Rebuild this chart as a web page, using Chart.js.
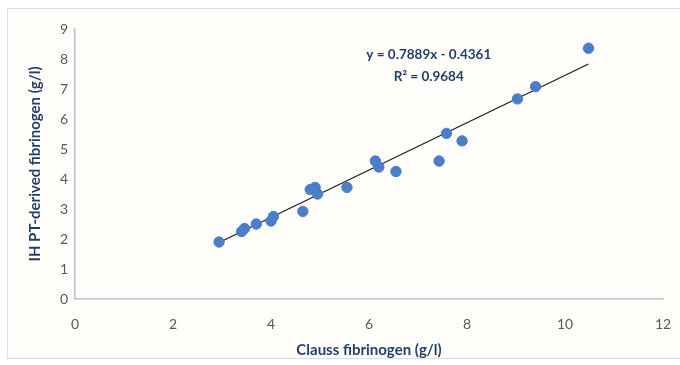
<!DOCTYPE html>
<html>
<head>
<meta charset="utf-8">
<script src="https://cdn.jsdelivr.net/npm/chart.js@4/dist/chart.umd.min.js"></script>
<style>
  html, body { margin: 0; padding: 0; background: #ffffff; }
  #wrap { position: relative; width: 680px; height: 365px; overflow: hidden; }
  #frame { position: absolute; left: 7px; top: 8px; width: 690px; height: 351px;
           border: 1px solid #d9dde3; box-sizing: border-box; background: #fffefb; }
  canvas { position: absolute; left: 0; top: 0; }
</style>
</head>
<body>
<div id="wrap">
  <div id="frame"></div>
  <canvas id="c" width="680" height="365"></canvas>
</div>
<script>
// Clauss fibrinogen (g/l) vs IH PT-derived fibrinogen (g/l)
const claussValues = [2.94, 3.40, 3.46, 3.70, 4.00, 4.05, 4.65, 4.80, 4.90, 4.95,
                      5.55, 6.13, 6.20, 6.55, 7.43, 7.58, 7.90, 9.03, 9.40, 10.48];
const ptDerivedValues = [1.90, 2.25, 2.35, 2.50, 2.60, 2.75, 2.92, 3.65, 3.72, 3.50,
                         3.72, 4.60, 4.40, 4.25, 4.60, 5.52, 5.27, 6.67, 7.08, 8.36];

// Linear trendline as printed on the chart
const trendSlope = 0.7889;
const trendIntercept = -0.4361;
const rSquared = 0.9684;

const xTicks = [0, 2, 4, 6, 8, 10, 12];
const yTicks = [0, 1, 2, 3, 4, 5, 6, 7, 8, 9];

const points = claussValues.map((x, i) => ({ x: x, y: ptDerivedValues[i] }));
const xMin = Math.min(...claussValues);
const xMax = Math.max(...claussValues);
const trendLine = [xMin, xMax].map(x => ({ x: x, y: trendSlope * x + trendIntercept }));

const navy = '#243f6b';
const tickGrey = '#595959';
const axisLine = '#b7c3d3';

const equationLabel = {
  id: 'equationLabel',
  afterDatasetsDraw(chart) {
    const { ctx, scales } = chart;
    const cx = scales.x.getPixelForValue(7.22);
    ctx.save();
    ctx.fillStyle = navy;
    ctx.font = 'bold 13.5px Lato, "Liberation Sans", sans-serif';
    ctx.textAlign = 'center';
    ctx.textBaseline = 'middle';
    const intercept = trendIntercept < 0
      ? ' - ' + Math.abs(trendIntercept).toFixed(4)
      : ' + ' + trendIntercept.toFixed(4);
    ctx.fillText('y = ' + trendSlope.toFixed(4) + 'x' + intercept, cx, scales.y.getPixelForValue(8.15));
    ctx.fillText('R\u00b2 = ' + rSquared.toFixed(4), cx, scales.y.getPixelForValue(7.4));
    ctx.restore();
  }
};

new Chart(document.getElementById('c'), {
  type: 'scatter',
  data: {
    datasets: [
      {
        type: 'line',
        data: trendLine,
        borderColor: '#1a1a1a',
        borderWidth: 1.2,
        pointRadius: 0,
        fill: false,
        order: 2
      },
      {
        data: points,
        backgroundColor: '#4a7ec8',
        borderColor: '#4a7ec8',
        pointRadius: 5.2,
        pointHoverRadius: 5.2,
        order: 1
      }
    ]
  },
  options: {
    responsive: false,
    animation: false,
    events: [],
    layout: { padding: { left: 0, right: 17, top: 29, bottom: 0 } },
    plugins: { legend: { display: false }, tooltip: { enabled: false } },
    scales: {
      x: {
        type: 'linear',
        min: 0, max: 12,
        afterBuildTicks(scale) { scale.ticks = xTicks.map(v => ({ value: v })); },
        afterFit(scale) {
          scale.height = 66;
          scale.paddingLeft = 0;
          scale.paddingRight = 0;
        },
        grid: { display: false, drawTicks: false },
        border: { display: true, color: axisLine, width: 1.5 },
        ticks: { color: tickGrey, padding: 17, font: { family: 'Lato', size: 14 } },
        title: {
          display: true,
          text: 'Clauss fibrinogen (g/l)',
          color: navy,
          font: { family: 'Lato', size: 15, weight: 'bold' },
          padding: { top: 0, bottom: 6 }
        }
      },
      y: {
        type: 'linear',
        min: 0, max: 9,
        afterBuildTicks(scale) { scale.ticks = yTicks.map(v => ({ value: v })); },
        afterFit(scale) {
          scale.width = 75;
          scale.paddingTop = 0;
          scale.paddingBottom = 0;
        },
        grid: { display: false, drawTicks: false },
        border: { display: true, color: axisLine, width: 1.5 },
        ticks: { color: tickGrey, padding: 7, font: { family: 'Lato', size: 14 } },
        title: {
          display: true,
          text: 'IH PT-derived fibrinogen (g/l)',
          color: navy,
          font: { family: 'Lato', size: 15, weight: 'bold' },
          padding: { top: 26, bottom: 0 }
        }
      }
    }
  },
  plugins: [equationLabel]
});
</script>
</body>
</html>
